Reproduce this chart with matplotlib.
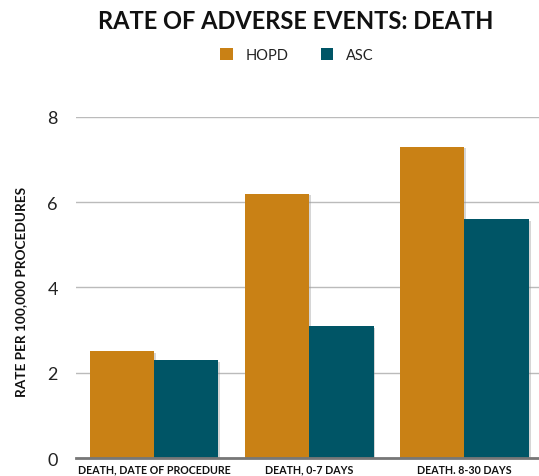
import numpy as np
import matplotlib
matplotlib.use('Agg')
import matplotlib.pyplot as plt
import matplotlib.patheffects as pe

# datos
categories = ['DEATH, DATE OF PROCEDURE', 'DEATH, 0-7 DAYS', 'DEATH. 8-30 DAYS']
hopd = [2.5, 6.2, 7.3]
asc = [2.3, 3.1, 5.6]
yticks = [0, 2, 4, 6, 8]

HOPD_COLOR = '#C98115'
ASC_COLOR = '#005566'
FONT = 'Lato'

fig = plt.figure(figsize=(5.39, 4.77), dpi=100)
ax = fig.add_axes([0.141, 0.0377, 0.859, 0.715])

x = np.arange(len(categories))
w = 0.415
shadow = [pe.SimplePatchShadow(offset=(1.2, -1.2), shadow_rgbFace='#999999', alpha=0.4), pe.Normal()]
b1 = ax.bar(x - w / 2, hopd, w, color=HOPD_COLOR, label='HOPD', zorder=3)
b2 = ax.bar(x + w / 2, asc, w, color=ASC_COLOR, label='ASC', zorder=3)
for b in list(b1) + list(b2):
    b.set_path_effects(shadow)

ax.set_xlim(-0.503, 2.48)
ax.set_ylim(0, 8)
ax.set_yticks(yticks)
ax.set_yticklabels([str(t) for t in yticks], fontsize=13, family=FONT, color='#222222')
ax.set_xticks(x)
ax.set_xticklabels(categories, fontsize=7.7, family=FONT, fontweight='bold', color='#111111')
ax.tick_params(axis='y', length=0, pad=13)
ax.tick_params(axis='x', length=0, pad=4)
ax.yaxis.grid(True, color='#bbbbbb', linewidth=1, zorder=0)
for s in ['top', 'right', 'left']:
    ax.spines[s].set_visible(False)
ax.spines['bottom'].set_color('#777777')
ax.spines['bottom'].set_linewidth(2)
ax.spines['bottom'].set_zorder(4)

ax.set_ylabel('RATE PER 100,000 PROCEDURES', fontsize=9.8, family=FONT, fontweight='bold',
              color='#111111')
ax.yaxis.set_label_coords(-0.106, 0.49)

fig.text(0.548, 0.955, 'RATE OF ADVERSE EVENTS: DEATH', ha='center', va='center',
         fontsize=17, family=FONT, fontweight='bold', color='#111111')

leg = fig.legend(handles=[b1, b2], labels=['HOPD', 'ASC'], loc='center',
                 bbox_to_anchor=(0.551, 0.882), ncol=2, frameon=False,
                 prop={'family': FONT, 'size': 10.5}, handlelength=0.85, handleheight=0.85,
                 columnspacing=2.2, handletextpad=0.9)
for t in leg.get_texts():
    t.set_color('#222222')
for h in leg.legend_handles:
    h.set_path_effects([])

fig.savefig('out.png', dpi=100)
